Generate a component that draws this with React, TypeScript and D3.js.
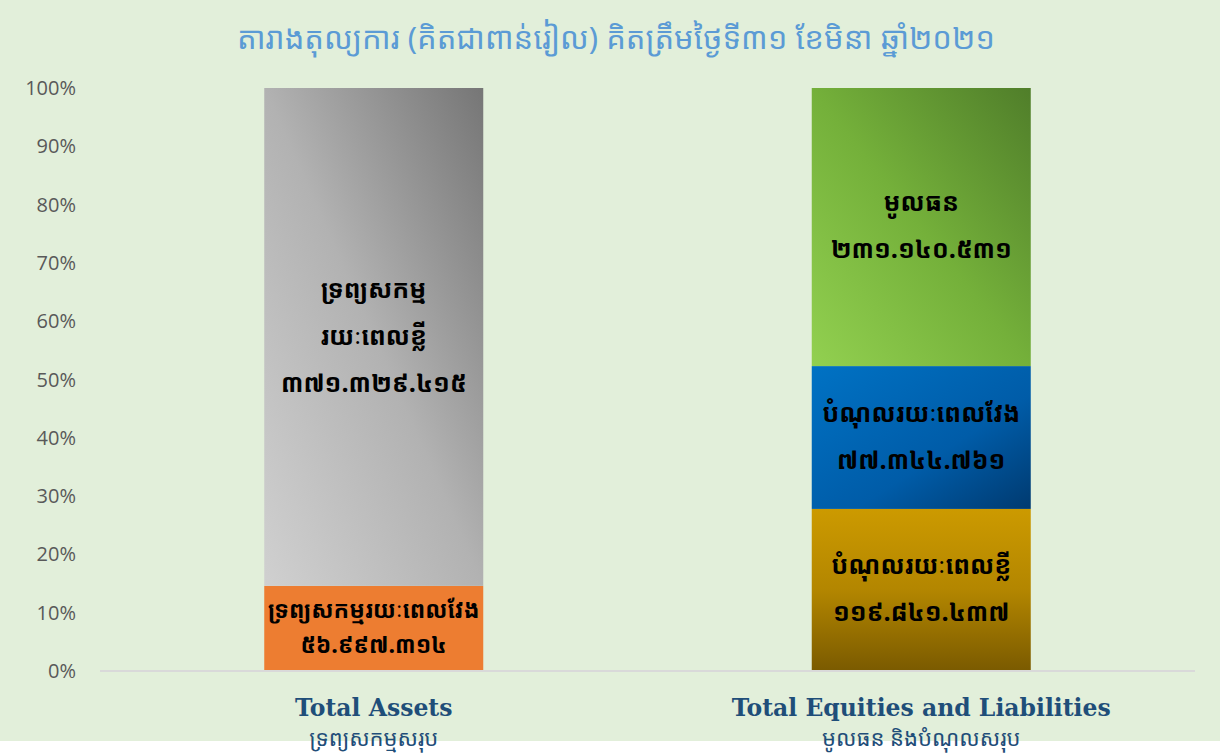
import React from "react";
import * as d3 from "d3";

const title = "តារាងតុល្យការ (គិតជាពាន់រៀល) គិតត្រឹមថ្ងៃទី៣១ ខែមិនា ឆ្នាំ២០២១";
const categories = ["Total Assets", "Total Equities and Liabilities"];
const categoriesKh = ["ទ្រព្យសកម្មសរុប", "មូលធន និងបំណុលសរុប"];
const yTicks = [0, 10, 20, 30, 40, 50, 60, 70, 80, 90, 100];

// segment shares in %, bottom to top
const assetsShares = [14.6, 85.4];
const assetsLabels = [
  ["ទ្រព្យសកម្មរយៈពេលវែង", "៥៦.៩៩៧.៣១៤"],
  ["ទ្រព្យសកម្ម", "រយៈពេលខ្លី", "៣៧១.៣២៩.៤១៥"],
];
const equityShares = [27.8, 24.5, 47.7];
const equityLabels = [
  ["បំណុលរយៈពេលខ្លី", "១១៩.៨៤១.៤៣៧"],
  ["បំណុលរយៈពេលវែង", "៧៧.៣៤៤.៧៦១"],
  ["មូលធន", "២៣១.១៤០.៥៣១"],
];

const W = 1220;
const H = 755;
const khFont = "'Noto Sans Khmer', 'Khmer OS', 'Noto Serif Khmer', 'Noto Sans', sans-serif";

const fills = [
  ["url(#gOrange)", "url(#gGray)"],
  ["url(#gGold)", "url(#gBlue)", "url(#gGreen)"],
];

export default function App() {
  const x = d3.scaleBand<string>().domain(categories).range([100, 1195]).paddingInner(0.6).paddingOuter(0.3);
  const y = d3.scaleLinear().domain([0, 100]).range([671, 88]);

  const seriesSets = [
    { shares: assetsShares, labels: assetsLabels },
    { shares: equityShares, labels: equityLabels },
  ];

  return (
    <svg width={W} height={H} style={{ position: "absolute", left: 0, top: 0 }}>
      <defs>
        <linearGradient id="gGray" x1="0" y1="1" x2="1" y2="0">
          <stop offset="0" stopColor="#D0D0D0" />
          <stop offset="0.5" stopColor="#B2B2B2" />
          <stop offset="1" stopColor="#767676" />
        </linearGradient>
        <linearGradient id="gOrange" x1="0" y1="0" x2="0" y2="1">
          <stop offset="0" stopColor="#ED7D31" />
          <stop offset="1" stopColor="#ED7D31" />
        </linearGradient>
        <linearGradient id="gGold" x1="0" y1="0" x2="0" y2="1">
          <stop offset="0" stopColor="#CC9A00" />
          <stop offset="0.5" stopColor="#B38600" />
          <stop offset="1" stopColor="#7A5A00" />
        </linearGradient>
        <linearGradient id="gBlue" x1="0" y1="0" x2="1" y2="1">
          <stop offset="0" stopColor="#0072C4" />
          <stop offset="0.6" stopColor="#005CA8" />
          <stop offset="1" stopColor="#003A70" />
        </linearGradient>
        <linearGradient id="gGreen" x1="0" y1="1" x2="1" y2="0">
          <stop offset="0" stopColor="#92D050" />
          <stop offset="0.5" stopColor="#74B03A" />
          <stop offset="1" stopColor="#507E2A" />
        </linearGradient>
      </defs>
      <rect x={0} y={0} width={W} height={741} fill="#E2EFDA" />
      <text x={616} y={49} textAnchor="middle" fontFamily={khFont} fontSize={31} fill="#5B9BD5">
        {title}
      </text>
      {yTicks.map((t) => (
        <text key={t} x={76} y={y(t)} dy="0.35em" textAnchor="end" fontFamily="'Open Sans', sans-serif" fontSize={20} fill="#595959">
          {t + "%"}
        </text>
      ))}
      {seriesSets.map((s, ci) => {
        const cat = categories[ci];
        const bx = x(cat)!;
        const bw = x.bandwidth();
        let acc = 0;
        return (
          <g key={cat}>
            {s.shares.map((v, si) => {
              const y0 = y(acc);
              acc += v;
              const y1 = y(acc);
              const h = y0 - y1;
              const lines = s.labels[si];
              const sp = Math.min(47, h / 2.5);
              const cy = (y0 + y1) / 2 - 1;
              return (
                <g key={si}>
                  <rect x={bx} y={y1} width={bw} height={h} fill={fills[ci][si]} />
                  {lines.map((ln, li) => (
                    <text
                      key={li}
                      x={bx + bw / 2}
                      y={cy + (li - (lines.length - 1) / 2) * sp}
                      dy="0.35em"
                      textAnchor="middle"
                      fontFamily={khFont}
                      fontWeight="bold"
                      fontSize={si === 0 && ci === 0 ? 23 : 25}
                      fill="#000"
                    >
                      {ln}
                    </text>
                  ))}
                </g>
              );
            })}
          </g>
        );
      })}
      <line x1={100} x2={1195} y1={671} y2={671} stroke="#D9D9D9" strokeWidth={2} />
      {categories.map((c, i) => (
        <g key={c}>
          <text x={x(c)! + x.bandwidth() / 2} y={716} textAnchor="middle" fontFamily="'DejaVu Serif', serif" fontWeight="bold" fontSize={23.5} fill="#1F4E79">
            {c}
          </text>
          <text x={x(c)! + x.bandwidth() / 2} y={746} textAnchor="middle" fontFamily={khFont} fontSize={22} fill="#1F4E79">
            {categoriesKh[i]}
          </text>
        </g>
      ))}
    </svg>
  );
}
